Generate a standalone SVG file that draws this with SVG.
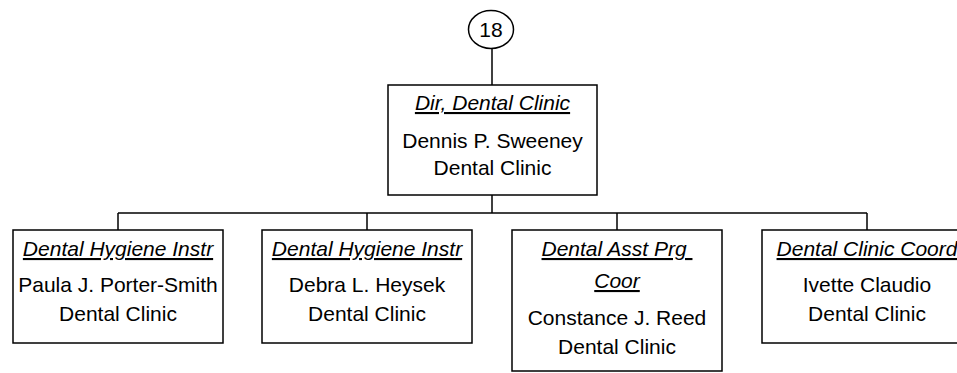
<svg xmlns="http://www.w3.org/2000/svg" width="957" height="373" viewBox="0 0 957 373">
<style>
.box{fill:#fff;stroke:#000;stroke-width:1.5}
.ln{fill:none;stroke:#000;stroke-width:1.5}
text{font-family:"Liberation Sans",Arial,sans-serif;font-size:21px;fill:#000;text-anchor:middle}
.t{font-style:italic;text-decoration:underline}
</style>
<rect width="957" height="373" fill="#fff"/>
<g id="connectors">
<line class="ln" x1="492" y1="48" x2="492" y2="85"/>
<line class="ln" x1="492" y1="195" x2="492" y2="213"/>
<line class="ln" x1="118" y1="213" x2="867" y2="213"/>
<line class="ln" x1="118" y1="213" x2="118" y2="230"/>
<line class="ln" x1="367" y1="213" x2="367" y2="230"/>
<line class="ln" x1="617" y1="213" x2="617" y2="230"/>
<line class="ln" x1="867" y1="213" x2="867" y2="230"/>
</g>
<g id="n18">
<ellipse class="box" cx="491" cy="29.5" rx="22.5" ry="19"/>
<text x="491" y="37">18</text>
</g>
<g id="dir">
<rect class="box" x="388" y="85" width="209" height="110"/>
<text class="t" x="492.5" y="110">Dir, Dental Clinic</text>
<text x="492.5" y="148">Dennis P. Sweeney</text>
<text x="492.5" y="175">Dental Clinic</text>
</g>
<g id="porter">
<rect class="box" x="13" y="230" width="210" height="113"/>
<text class="t" x="118" y="256">Dental Hygiene Instr</text>
<text x="118" y="292">Paula J. Porter-Smith</text>
<text x="118" y="321">Dental Clinic</text>
</g>
<g id="heysek">
<rect class="box" x="262" y="230" width="210" height="113"/>
<text class="t" x="367" y="256">Dental Hygiene Instr</text>
<text x="367" y="292">Debra L. Heysek</text>
<text x="367" y="321">Dental Clinic</text>
</g>
<g id="reed">
<rect class="box" x="512" y="230" width="210" height="141"/>
<text class="t" x="617" y="256" xml:space="preserve">Dental Asst Prg </text>
<text class="t" x="617" y="288">Coor</text>
<text x="617" y="325">Constance J. Reed</text>
<text x="617" y="354">Dental Clinic</text>
</g>
<g id="claudio">
<rect class="box" x="762" y="230" width="210" height="113"/>
<text class="t" x="867" y="256">Dental Clinic Coord</text>
<text x="867" y="292">Ivette Claudio</text>
<text x="867" y="321">Dental Clinic</text>
</g>
</svg>
